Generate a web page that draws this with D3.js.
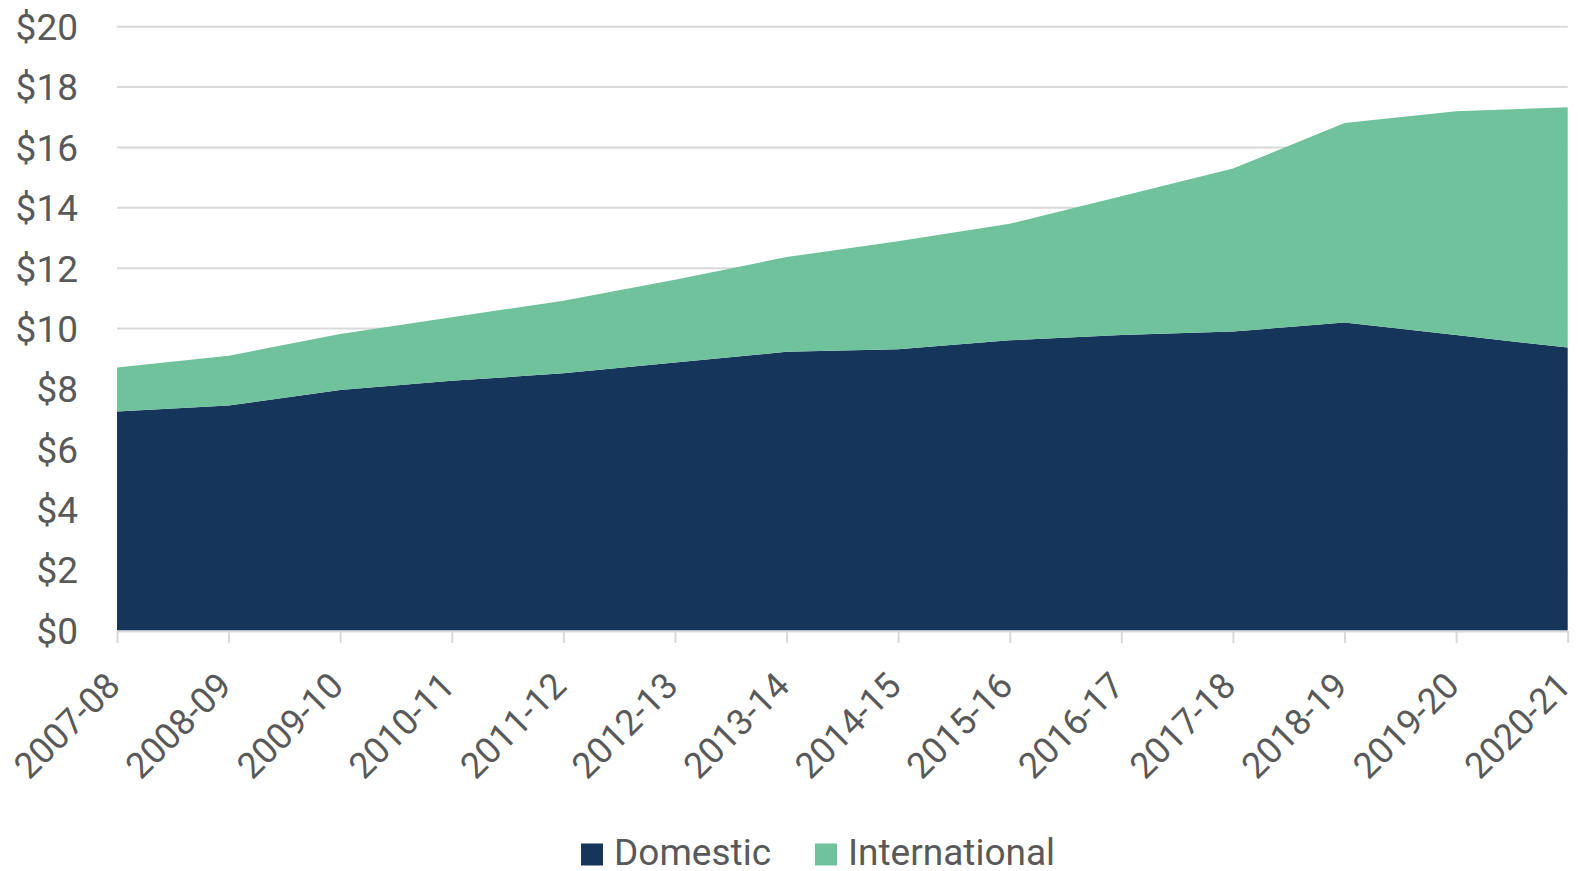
<!DOCTYPE html>
<html>
<head>
<meta charset="utf-8">
<script src="https://cdn.jsdelivr.net/npm/d3@7"></script>
<style>
	html, body { margin:0; padding:0; background:#ffffff; }
	svg { display:block; font-family:Roboto, "Open Sans", sans-serif; }
</style>
</head>
<body>
<div id="chart"></div>
<script>
//funding by year, domestic vs international (stacked area)
var years = ["2007-08","2008-09","2009-10","2010-11","2011-12","2012-13","2013-14",
			 "2014-15","2015-16","2016-17","2017-18","2018-19","2019-20","2020-21"];
var domestic = [7.25, 7.45, 7.97, 8.27, 8.52, 8.88, 9.23, 9.32, 9.61, 9.79, 9.90, 10.20, 9.79, 9.37];
var international = [1.46, 1.65, 1.85, 2.11, 2.40, 2.74, 3.14, 3.57, 3.86, 4.59, 5.40, 6.61, 7.41, 7.96];
var y_ticks = [0, 2, 4, 6, 8, 10, 12, 14, 16, 18, 20];
var series_names = ["Domestic", "International"];
var series_colors = ["#15355a", "#6fc29c"];

var W = 1578, H = 871;
var margin = {top:26.7, right:10, bottom:240.5, left:117};

var svg = d3.select("#chart").append("svg").attr("width", W).attr("height", H);

var rows = years.map(function(d,i){
	return {year:d, Domestic:domestic[i], International:international[i]};
});
var stacked = d3.stack().keys(series_names)(rows);

var x = d3.scalePoint().domain(years).range([margin.left, 1567.7]);
var y = d3.scaleLinear().domain([0, 20]).range([H - margin.bottom, margin.top]);

//gridlines
svg.append("g").selectAll("line").data(y_ticks.filter(function(d){return d > 0})).enter().append("line")
	.attr("x1", x.range()[0]).attr("x2", x.range()[1])
	.attr("y1", function(d){return y(d)}).attr("y2", function(d){return y(d)})
	.attr("stroke", "#d9d9d9").attr("stroke-width", 2);

//areas
var area = d3.area()
	.x(function(d,i){return x(years[i])})
	.y0(function(d){return y(d[0])})
	.y1(function(d){return y(d[1])});

svg.append("g").selectAll("path").data(stacked).enter().append("path")
	.attr("d", area)
	.attr("fill", function(d,i){return series_colors[i]});

//x axis
var xaxis = svg.append("g").attr("transform", "translate(0," + (y(0) + 0.5) + ")")
	.call(d3.axisBottom(x).tickSize(12).tickSizeOuter(0).tickFormat(""));
xaxis.select(".domain").attr("stroke", "#d9d9d9").attr("stroke-width", 2);
xaxis.selectAll(".tick line").attr("stroke", "#d9d9d9").attr("stroke-width", 2);

svg.append("g").selectAll("text").data(years).enter().append("text")
	.attr("transform", function(d){return "translate(" + (x(d) + 5) + ",688) rotate(-45)"})
	.attr("text-anchor", "end")
	.attr("fill", "#595959")
	.style("font-size", "36px")
	.text(function(d){return d});

//y axis labels
svg.append("g").selectAll("text").data(y_ticks).enter().append("text")
	.attr("x", 78).attr("y", function(d){return y(d)})
	.attr("dy", "0.36em")
	.attr("text-anchor", "end")
	.attr("fill", "#595959")
	.style("font-size", "37px")
	.text(function(d){return "$" + d});

//legend
var legend_x = [581, 815];
var leg = svg.append("g").selectAll("g").data(series_names).enter().append("g")
	.attr("transform", function(d,i){return "translate(" + legend_x[i] + ",0)"});
leg.append("rect")
	.attr("x", 0).attr("y", 843.5).attr("width", 22).attr("height", 22)
	.attr("fill", function(d,i){return series_colors[i]});
leg.append("text")
	.attr("x", 33).attr("y", 865)
	.attr("fill", "#595959")
	.style("font-size", "37px")
	.text(function(d){return d});
</script>
</body>
</html>
